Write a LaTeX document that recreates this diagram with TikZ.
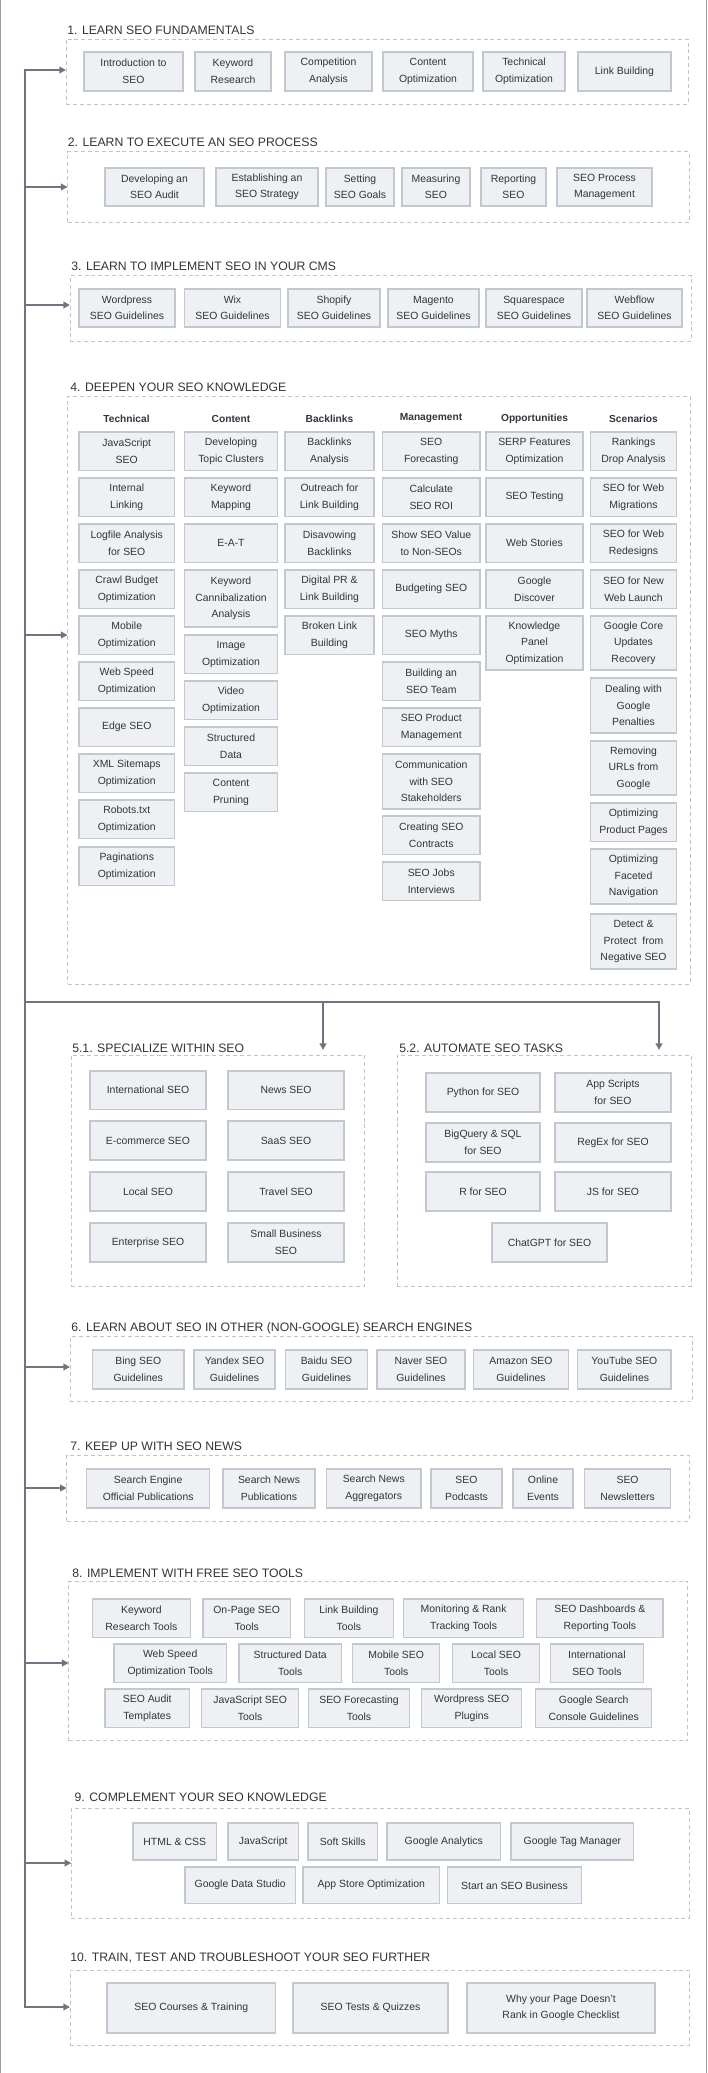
\documentclass[tikz,border=0pt]{standalone}
\usepackage{fontspec}
\IfFontExistsTF{Liberation Sans Narrow}{\setmainfont{Liberation Sans Narrow}}{\setmainfont{Liberation Sans}[Scale=0.85]}
\usetikzlibrary{arrows.meta}
\definecolor{wirecol}{HTML}{6C7580}
\definecolor{boxfill}{HTML}{EEF0F3}
\definecolor{boxline}{HTML}{C2C8CF}
\definecolor{dashcol}{HTML}{C0C4C9}
\definecolor{txtcol}{HTML}{30353B}
\definecolor{framecol}{HTML}{9C9C9C}
\newcommand\mkbox[6]{%
  \pgfmathsetmacro\bw{(#4-#2)*0.75}\pgfmathsetmacro\bh{(#5-#3)*0.75}%
  \node[sbox,minimum width=\bw pt,minimum height=\bh pt] (#1) at ({(#2+#4)/2},{(#3+#5)/2}) {#6};}
\newcommand\mkarea[5]{%
  \pgfmathsetmacro\bw{(#4-#2)*0.75}\pgfmathsetmacro\bh{(#5-#3)*0.75}%
  \node[sarea,minimum width=\bw pt,minimum height=\bh pt] (#1) at ({(#2+#4)/2},{(#3+#5)/2}) {};}
\tikzset{
  sbox/.style={draw=boxline,fill=boxfill,line width=1pt,inner sep=0pt,outer sep=0pt,align=center,text=txtcol,font=\fontsize{9.2}{12.4}\selectfont},
  sarea/.style={draw=dashcol,line width=0.7pt,dash pattern=on 3pt off 2.2pt,inner sep=0pt,outer sep=0pt},
  stitle/.style={anchor=base west,inner sep=0pt,text=txtcol,font=\fontsize{10.8}{12}\selectfont},
  shead/.style={anchor=center,inner sep=0pt,text=txtcol,font=\bfseries\fontsize{9}{11}\selectfont},
  wire/.style={draw=wirecol,line width=1.5pt},
  flow/.style={wire,-{Triangle[length=5pt,width=5pt]}},
}
\begin{document}
\begin{tikzpicture}[x=0.75pt,y=-0.75pt]
\useasboundingbox (0,0) rectangle (707,2073);
\draw[framecol,line width=0.7pt] (0.5,0) -- (0.5,2073) (706.5,0) -- (706.5,2073);

% ---------- Section 1
\node[stitle] (h1) at (67,34.3) {1. LEARN SEO FUNDAMENTALS};
\mkarea{s1}{66}{39}{688}{104}
\mkbox{a1}{84}{52}{183}{91}{Introduction to\\SEO}
\mkbox{a2}{195}{52}{271}{91}{Keyword\\Research}
\mkbox{a3}{285}{52}{372}{91}{Competition\\Analysis}
\mkbox{a4}{383}{52}{473}{91}{Content\\Optimization}
\mkbox{a5}{483}{52}{565}{91}{Technical\\Optimization}
\mkbox{a6}{578}{52}{671}{91}{Link Building}

% ---------- Section 2
\node[stitle] (h2) at (67.6,146.7) {2. LEARN TO EXECUTE AN SEO PROCESS};
\mkarea{s2}{67.6}{151.7}{689}{222.7}
\mkbox{b1}{105}{168}{204}{206}{Developing an\\SEO Audit}
\mkbox{b2}{216}{168}{318}{206}{Establishing an\\SEO Strategy}
\mkbox{b3}{326}{168}{394}{206}{Setting\\SEO Goals}
\mkbox{b4}{402}{168}{470}{206}{Measuring\\SEO}
\mkbox{b5}{481}{168}{546}{206}{Reporting\\SEO}
\mkbox{b6}{557}{168}{652}{206}{SEO Process\\Management}

% ---------- Section 3
\node[stitle] (h3) at (71,270) {3. LEARN TO IMPLEMENT SEO IN YOUR CMS};
\mkarea{s3}{70}{275.7}{691.4}{341}
\mkbox{c1}{79}{289}{175}{327}{Wordpress\\SEO Guidelines}
\mkbox{c2}{184.5}{289}{280.5}{327}{Wix\\SEO Guidelines}
\mkbox{c3}{288}{289}{380}{327}{Shopify\\SEO Guidelines}
\mkbox{c4}{388}{289}{479}{327}{Magento\\SEO Guidelines}
\mkbox{c5}{486}{289}{582}{327}{Squarespace\\SEO Guidelines}
\mkbox{c6}{587}{289}{682}{327}{Webflow\\SEO Guidelines}

% ---------- Section 4
\node[stitle] (h4) at (70,391.7) {4. DEEPEN YOUR SEO KNOWLEDGE};
\mkarea{s4}{67.6}{396}{690}{984}
\node[shead] (k1) at (126.5,418.5) {Technical};
\node[shead] (k2) at (231,418.5) {Content};
\node[shead] (k3) at (329.5,418.5) {Backlinks};
\node[shead] (k4) at (431,418.5) {Management};
\node[shead] (k5) at (534.5,418.5) {Opportunities};
\node[shead] (k6) at (633.5,418.5) {Scenarios};
% Technical
\mkbox{t1}{79}{432}{174.5}{470.5}{JavaScript\\SEO}
\mkbox{t2}{79}{478}{174.5}{516.5}{Internal\\Linking}
\mkbox{t3}{79}{524}{174.5}{562.5}{Logfile Analysis\\for SEO}
\mkbox{t4}{79}{570}{174.5}{608.5}{Crawl Budget\\Optimization}
\mkbox{t5}{79}{616}{174.5}{654.5}{Mobile\\Optimization}
\mkbox{t6}{79}{662}{174.5}{700.5}{Web Speed\\Optimization}
\mkbox{t7}{79}{708}{174.5}{746.5}{Edge SEO}
\mkbox{t8}{79}{754}{174.5}{792.5}{XML Sitemaps\\Optimization}
\mkbox{t9}{79}{800}{174.5}{838.5}{Robots.txt\\Optimization}
\mkbox{t10}{79}{847}{174.5}{885.5}{Paginations\\Optimization}
% Content
\mkbox{u1}{184.5}{432}{277.5}{470.5}{Developing\\Topic Clusters}
\mkbox{u2}{184.5}{478}{277.5}{516.5}{Keyword\\Mapping}
\mkbox{u3}{184.5}{524}{277.5}{562.5}{E-A-T}
\mkbox{u4}{184.5}{570}{277.5}{627}{Keyword\\Cannibalization\\Analysis}
\mkbox{u5}{184.5}{635}{277.5}{673.5}{Image\\Optimization}
\mkbox{u6}{184.5}{681}{277.5}{719.5}{Video\\Optimization}
\mkbox{u7}{184.5}{727}{277.5}{765.5}{Structured\\Data}
\mkbox{u8}{184.5}{773}{277.5}{811.5}{Content\\Pruning}
% Backlinks
\mkbox{v1}{285}{432}{374}{470.5}{Backlinks\\Analysis}
\mkbox{v2}{285}{478}{374}{516.5}{Outreach for\\Link Building}
\mkbox{v3}{285}{524}{374}{562.5}{Disavowing\\Backlinks}
\mkbox{v4}{285}{570}{374}{608.5}{Digital PR \&\\Link Building}
\mkbox{v5}{285}{616}{374}{654.5}{Broken Link\\Building}
% Management
\mkbox{w1}{382.5}{432}{480}{470.5}{SEO\\Forecasting}
\mkbox{w2}{382.5}{478}{480}{516.5}{Calculate\\SEO ROI}
\mkbox{w3}{382.5}{524}{480}{562.5}{Show SEO Value\\to Non-SEOs}
\mkbox{w4}{382.5}{570}{480}{608.5}{Budgeting SEO}
\mkbox{w5}{382.5}{616}{480}{654.5}{SEO Myths}
\mkbox{w6}{382.5}{662}{480}{700.5}{Building an\\SEO Team}
\mkbox{w7}{382.5}{708}{480}{746.5}{SEO Product\\Management}
\mkbox{w8}{382.5}{754}{480}{809}{Communication\\with SEO\\Stakeholders}
\mkbox{w9}{382.5}{816}{480}{854.5}{Creating SEO\\Contracts}
\mkbox{w10}{382.5}{862}{480}{900.5}{SEO Jobs\\Interviews}
% Opportunities
\mkbox{o1}{486}{432}{583}{470.5}{SERP Features\\Optimization}
\mkbox{o2}{486}{478}{583}{516.5}{SEO Testing}
\mkbox{o3}{486}{524}{583}{562.5}{Web Stories}
\mkbox{o4}{486}{570}{583}{608.5}{Google\\Discover}
\mkbox{o5}{486}{616}{583}{670}{Knowledge\\Panel\\Optimization}
% Scenarios
\mkbox{z1}{590.5}{432}{676.5}{470.5}{Rankings\\Drop Analysis}
\mkbox{z2}{590.5}{478}{676.5}{516.5}{SEO for Web\\Migrations}
\mkbox{z3}{590.5}{524}{676.5}{562.5}{SEO for Web\\Redesigns}
\mkbox{z4}{590.5}{570}{676.5}{608.5}{SEO for New\\Web Launch}
\mkbox{z5}{590.5}{616}{676.5}{670}{Google Core\\Updates\\Recovery}
\mkbox{z6}{590.5}{678}{676.5}{733}{Dealing with\\Google\\Penalties}
\mkbox{z7}{590.5}{741}{676.5}{795}{Removing\\URLs from\\Google}
\mkbox{z8}{590.5}{803}{676.5}{841.5}{Optimizing\\Product Pages}
\mkbox{z9}{590.5}{849}{676.5}{904}{Optimizing\\Faceted\\Navigation}
\mkbox{z10}{590.5}{914}{676.5}{969}{Detect \&\\Protect\ \ from\\Negative SEO}

% ---------- Section 5.1
\node[stitle] (h51) at (72,1052.7) {5.1. SPECIALIZE WITHIN SEO};
\mkarea{s51}{71.3}{1055}{364.4}{1286}
\mkbox{p1}{90}{1071}{206}{1109.5}{International SEO}
\mkbox{p2}{228}{1071}{344}{1109.5}{News SEO}
\mkbox{p3}{90}{1121}{206}{1160}{E-commerce SEO}
\mkbox{p4}{228}{1121}{344}{1160}{SaaS SEO}
\mkbox{p5}{90}{1172}{206}{1211}{Local SEO}
\mkbox{p6}{228}{1172}{344}{1211}{Travel SEO}
\mkbox{p7}{90}{1223}{206}{1262}{Enterprise SEO}
\mkbox{p8}{228}{1223}{344}{1262}{Small Business\\SEO}

% ---------- Section 5.2
\node[stitle] (h52) at (399,1052.7) {5.2. AUTOMATE SEO TASKS};
\mkarea{s52}{397}{1055}{691}{1286}
\mkbox{q1}{426}{1073}{540}{1112}{Python for SEO}
\mkbox{q2}{555}{1073}{671}{1112}{App Scripts\\for SEO}
\mkbox{q3}{426}{1123}{540}{1162}{BigQuery \& SQL\\for SEO}
\mkbox{q4}{555}{1123}{671}{1162}{RegEx for SEO}
\mkbox{q5}{426}{1172}{540}{1211}{R for SEO}
\mkbox{q6}{555}{1172}{671}{1211}{JS for SEO}
\mkbox{q7}{492}{1223}{607}{1262}{ChatGPT for SEO}

% ---------- Section 6
\node[stitle] (h6) at (71,1331.7) {6. LEARN ABOUT SEO IN OTHER (NON-GOOGLE) SEARCH ENGINES};
\mkarea{s6}{70}{1336.7}{692.3}{1401.7}
\mkbox{e1}{92.5}{1350}{184}{1389}{Bing SEO\\Guidelines}
\mkbox{e2}{194}{1350}{275}{1389}{Yandex SEO\\Guidelines}
\mkbox{e3}{285.5}{1350}{367.6}{1389}{Baidu SEO\\Guidelines}
\mkbox{e4}{377}{1350}{465}{1389}{Naver SEO\\Guidelines}
\mkbox{e5}{473.6}{1350}{568.3}{1389}{Amazon SEO\\Guidelines}
\mkbox{e6}{577.7}{1350}{671.1}{1389}{YouTube SEO\\Guidelines}

% ---------- Section 7
\node[stitle] (h7) at (70,1450.7) {7. KEEP UP WITH SEO NEWS};
\mkarea{s7}{66.7}{1455}{689}{1521}
\mkbox{f1}{86.6}{1469}{209.7}{1508}{Search Engine\\Official Publications}
\mkbox{f2}{223}{1469}{315}{1508}{Search News\\Publications}
\mkbox{f3}{326.5}{1469}{421}{1508}{Search News\\Aggregators}
\mkbox{f4}{431}{1469}{502}{1508}{SEO\\Podcasts}
\mkbox{f5}{513}{1469}{573}{1508}{Online\\Events}
\mkbox{f6}{584.5}{1469}{670.6}{1508}{SEO\\Newsletters}

% ---------- Section 8
\node[stitle] (h8) at (72,1577.7) {8. IMPLEMENT WITH FREE SEO TOOLS};
\mkarea{s8}{68.6}{1581.7}{687.8}{1740.7}
\mkbox{g1}{92.5}{1599}{190.3}{1637.5}{Keyword\\Research Tools}
\mkbox{g2}{203}{1599}{290.4}{1637.5}{On-Page SEO\\Tools}
\mkbox{g3}{304.4}{1599}{393.3}{1637.5}{Link Building\\Tools}
\mkbox{g4}{403.6}{1599}{523.6}{1637.5}{Monitoring \& Rank\\Tracking Tools}
\mkbox{g5}{536.7}{1599}{663}{1637.5}{SEO Dashboards \&\\Reporting Tools}
\mkbox{g6}{114}{1644}{226.4}{1682.5}{Web Speed\\Optimization Tools}
\mkbox{g7}{239}{1644}{341.4}{1682.5}{Structured Data\\Tools}
\mkbox{g8}{352.7}{1644}{439.7}{1682.5}{Mobile SEO\\Tools}
\mkbox{g9}{452.4}{1644}{539.8}{1682.5}{Local SEO\\Tools}
\mkbox{g10}{550.2}{1644}{643.6}{1682.5}{International\\SEO Tools}
\mkbox{g11}{105}{1689}{189.4}{1727.5}{SEO Audit\\Templates}
\mkbox{g12}{201.6}{1689}{298.6}{1727.5}{JavaScript SEO\\Tools}
\mkbox{g13}{308.5}{1689}{409.5}{1727.5}{SEO Forecasting\\Tools}
\mkbox{g14}{421.7}{1689}{521.8}{1727.5}{Wordpress SEO\\Plugins}
\mkbox{g15}{535.8}{1689}{651.7}{1727.5}{Google Search\\Console Guidelines}

% ---------- Section 9
\node[stitle] (h9) at (74.4,1801.7) {9. COMPLEMENT YOUR SEO KNOWLEDGE};
\mkarea{s9}{71.3}{1808.3}{689}{1918.3}
\mkbox{m1}{133}{1823}{216.5}{1860}{HTML \& CSS}
\mkbox{m2}{228}{1823}{298.6}{1860}{JavaScript}
\mkbox{m3}{308}{1823}{377.5}{1860}{Soft Skills}
\mkbox{m4}{387}{1823}{500.6}{1860}{Google Analytics}
\mkbox{m5}{511}{1823}{633.7}{1860}{Google Tag Manager}
\mkbox{m6}{185}{1867}{295.4}{1903.5}{Google Data Studio}
\mkbox{m7}{303}{1867}{439.7}{1903.5}{App Store Optimization}
\mkbox{m8}{447.8}{1867}{581.3}{1903.5}{Start an SEO Business}

% ---------- Section 10
\node[stitle] (h10) at (70,1961.7) {10. TRAIN, TEST AND TROUBLESHOOT YOUR SEO FURTHER};
\mkarea{s10}{70}{1970}{689}{2045.7}
\mkbox{n1}{107}{1983}{275.6}{2033}{SEO Courses \& Training}
\mkbox{n2}{293}{1983}{448}{2033}{SEO Tests \& Quizzes}
\mkbox{n3}{467}{1983}{655}{2033}{Why your Page Doesn’t\\Rank in Google Checklist}

% ---------- Connectors
\coordinate (j1) at (25,70);
\coordinate (j2) at (25,187);
\coordinate (j3) at (25,305);
\coordinate (j4) at (25,635);
\coordinate (j5) at (25,1002);
\coordinate (j6) at (25,1367);
\coordinate (j7) at (25,1488);
\coordinate (j8) at (25,1663);
\coordinate (j9) at (25,1863);
\coordinate (j10) at (25,2007);
\coordinate (r51) at (323,1002);
\coordinate (r52) at (659,1002);
\coordinate (e51) at (323,1050);
\coordinate (e52) at (659,1050);

\draw[flow] (j10) -- (j1) -- (j1 -| s1.west);
\draw[flow] (j1) -- (j10) -- (j10 -| s10.west);
\draw[flow] (j2) -- (j2 -| s2.west);
\draw[flow] (j3) -- (j3 -| s3.west);
\draw[flow] (j4) -- (j4 -| s4.west);
\draw[flow] (j6) -- (j6 -| s6.west);
\draw[flow] (j7) -- (j7 -| s7.west);
\draw[flow] (j8) -- (j8 -| s8.west);
\draw[flow] (j9) -- (j9 -| s9.west);
\draw[flow] (j5) -- (r52) -- (e52);
\draw[flow] (r51) -- (e51);
\end{tikzpicture}
\end{document}
